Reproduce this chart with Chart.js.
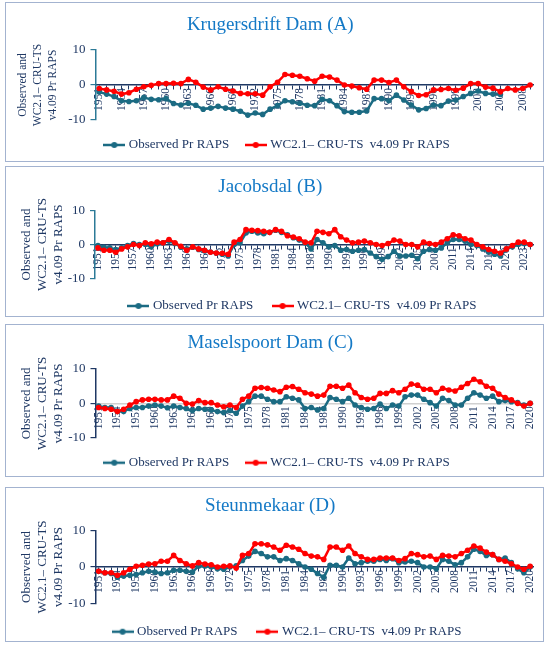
<!DOCTYPE html>
<html>
<head>
<meta charset="utf-8">
<script src="https://cdn.jsdelivr.net/npm/chart.js@4.4.1/dist/chart.umd.min.js"></script>
<style>
  body { margin: 0; background: #fff; }
  .panel { position: absolute; left: 5px; width: 539px; box-sizing: border-box; border: 1.5px solid #a3b3d0; }
  .wrap { position: absolute; left: 6px; width: 537px; }
</style>
</head>
<body>
<div class="panel" style="top:2px;height:160px"></div>
<div class="panel" style="top:166px;height:151px"></div>
<div class="panel" style="top:324px;height:153px"></div>
<div class="panel" style="top:487px;height:155px"></div>
<div class="wrap" id="wA"><canvas id="cA"></canvas></div>
<div class="wrap" id="wB"><canvas id="cB"></canvas></div>
<div class="wrap" id="wC"><canvas id="cC"></canvas></div>
<div class="wrap" id="wD"><canvas id="cD"></canvas></div>
<script>
// years on the category axis
var years = [1951,1952,1953,1954,1955,1956,1957,1958,1959,1960,
  1961,1962,1963,1964,1965,1966,1967,1968,1969,1970,
  1971,1972,1973,1974,1975,1976,1977,1978,1979,1980,
  1981,1982,1983,1984,1985,1986,1987,1988,1989,1990,
  1991,1992,1993,1994,1995,1996,1997,1998,1999,2000,
  2001,2002,2003,2004,2005,2006,2007,2008,2009,2010,
  2011,2012,2013,2014,2015,2016,2017,2018,2019,2020,
  2021,2022,2023,2024];
var yearsA = years.slice(0, 59);
var yearsB = years.slice(0, 74);
var yearsC = years.slice(0, 70);
var yearsD = years.slice(0, 70);

// Krugersdrift Dam (A)
var obsA = [-2.0,-2.6,-3.3,-4.5,-4.7,-4.5,-3.6,-4.1,-4.2,-3.9,
  -5.3,-5.7,-5.2,-5.8,-6.9,-6.6,-6.1,-6.6,-6.9,-7.5,
  -8.6,-8.0,-8.4,-6.9,-5.9,-4.5,-4.8,-5.2,-5.8,-5.9,
  -4.1,-4.5,-5.9,-7.6,-7.8,-7.8,-7.4,-3.9,-3.9,-4.5,
  -2.9,-4.3,-5.7,-7.1,-6.7,-5.7,-5.9,-4.6,-4.3,-3.3,
  -2.4,-1.7,-2.4,-2.6,-2.7,null,null,null,null];
var wcA = [-1.0,-1.4,-1.8,-2.6,-2.2,-1.2,-0.5,-0.1,0.4,0.4,
  0.5,0.4,1.6,0.8,-0.6,-1.4,-0.5,-1.2,-1.7,-2.4,
  -2.5,-2.5,-2.9,-0.5,0.8,3.0,2.8,2.5,1.8,1.1,
  2.5,2.3,1.4,0.0,-0.3,-0.8,-1.2,1.4,1.4,0.7,
  1.4,-0.5,-1.9,-3.0,-2.8,-1.4,-1.3,-1.0,-1.5,-0.9,
  0.4,0.4,-0.6,-0.9,-1.9,-1.0,-1.4,-1.0,0.0];

// Jacobsdal (B)
var obsB = [-0.3,-0.8,-1.0,-1.5,-1.0,-0.3,0.3,0.0,0.0,-0.7,
  0.2,0.5,1.0,0.3,-0.8,-1.3,-0.8,-1.5,-1.9,-2.2,
  -2.6,-2.9,-3.4,0.0,0.5,3.4,3.9,3.4,3.2,3.6,
  4.2,3.6,2.9,2.0,1.3,0.5,-1.3,1.5,0.5,-0.7,
  -0.3,-1.7,-1.5,-2.0,-1.7,-1.5,-2.5,-3.6,-4.4,-3.6,
  -2.0,-3.4,-3.4,-3.2,-4.2,-2.0,-1.5,-1.7,-1.0,0.5,
  1.5,1.5,1.0,0.0,-0.3,-1.3,-2.3,-2.9,-3.4,-1.3,
  -0.7,0.0,0.3,0.0];
var wcB = [-1.0,-1.7,-1.7,-2.3,-1.3,-0.7,0.0,-0.3,0.5,0.2,
  0.7,0.5,1.5,0.5,-0.5,-1.7,-0.7,-1.3,-1.7,-2.3,
  -2.5,-2.6,-2.9,0.7,1.5,4.4,4.2,4.1,3.9,3.6,
  4.4,3.9,2.6,2.2,1.7,0.7,0.5,3.9,3.6,3.2,
  4.4,2.3,1.3,0.5,0.7,1.0,0.5,0.0,-0.3,0.3,
  1.3,1.0,0.0,0.0,-0.7,0.7,0.3,0.0,0.7,1.7,
  2.9,2.6,1.7,1.3,0.0,-0.7,-1.5,-2.0,-2.5,-1.3,
  -0.3,0.7,0.7,0.0];

// Maselspoort Dam (C)
var obsC = [-0.8,-1.2,-1.2,-2.4,-2.4,-1.5,-1.2,-1.2,-0.8,-0.5,
  -0.8,-1.3,-0.8,-1.2,-1.5,-2.1,-1.5,-1.7,-1.9,-2.4,
  -2.7,-2.1,-2.9,-0.8,0.5,2.1,2.1,1.2,0.5,0.5,
  1.9,1.5,1.0,-1.5,-1.2,-1.9,-1.5,1.7,1.2,0.5,
  1.5,-0.5,-1.2,-1.7,-1.5,-0.2,-1.5,-0.5,-0.8,1.9,
  2.4,2.4,1.2,0.2,-0.8,1.5,0.8,-0.5,-0.5,1.5,
  3.1,2.4,1.5,2.1,0.5,0.8,0.5,0.2,-0.5,0.0];
var wcC = [-1.2,-1.5,-1.7,-2.4,-1.7,-0.5,0.5,1.0,1.2,1.2,
  1.0,1.0,2.1,1.5,0.0,-0.2,0.8,0.2,0.2,-0.5,
  -1.0,-0.5,-1.2,1.2,2.1,4.4,4.6,4.4,3.9,3.4,
  4.7,4.9,4.1,3.1,2.7,2.1,2.4,5.0,5.0,4.4,
  5.3,3.1,1.7,1.2,1.5,2.9,2.9,3.7,3.1,4.1,
  5.6,5.3,4.1,4.1,3.1,4.4,3.9,3.6,4.7,5.8,
  7.0,6.3,5.0,4.4,2.7,1.7,1.0,0.0,-0.8,0.0];

// Steunmekaar (D)
var obsD = [-1.2,-1.6,-1.8,-2.8,-2.5,-2.3,-2.1,-1.6,-1.2,-1.4,
  -1.8,-1.6,-0.9,-0.9,-1.2,-1.4,0.3,0.3,0.0,-0.5,
  -0.6,0.0,0.3,1.8,3.0,4.3,3.7,2.8,2.8,1.8,
  2.3,1.8,0.9,0.0,-0.6,-1.8,-2.8,0.5,0.5,0.0,
  2.5,0.9,1.2,1.6,1.6,2.1,1.8,2.3,1.2,1.4,
  1.6,1.2,0.0,0.0,-0.5,2.1,1.6,0.6,1.2,2.8,
  4.9,4.3,3.2,3.4,2.1,2.5,1.2,-0.5,-1.6,0.0];
var wcD = [-1.2,-1.6,-1.6,-2.3,-1.6,-0.6,0.2,0.5,0.8,0.9,
  1.6,1.6,3.2,1.8,0.9,0.3,1.2,0.8,0.6,0.0,
  0.2,0.3,-0.3,3.2,3.7,6.4,6.4,6.1,5.5,4.6,
  6.0,5.5,4.9,3.7,3.0,2.8,2.1,5.5,5.5,4.6,
  5.8,3.7,2.8,2.1,2.1,2.5,2.5,2.5,1.8,2.3,
  3.7,3.4,2.8,3.0,2.1,3.2,3.0,2.8,3.7,4.6,
  5.8,5.2,4.1,3.4,2.1,1.6,0.9,0.0,-0.6,0.2];

var obsLabel = 'Observed Pr RAPS';
var wcLabel = 'WC2.1\u2013 CRU-TS  v4.09 Pr RAPS';
var yTitle = ['Observed and', 'WC2.1\u2013 CRU-TS', 'v4.09 Pr RAPS'];

var navy = '#1f3864';
var teal = '#1b6b83';
var red = '#ff0000';
var axisTeal = '#2c7a97';
var titleBlue = '#1479c6';
var serif = "'Liberation Serif', 'Times New Roman', serif";

// legend symbol: short line with a dot, like the spreadsheet legend
function marker(color) {
  var c = document.createElement('canvas');
  c.width = 22; c.height = 10;
  var g = c.getContext('2d');
  g.strokeStyle = color; g.lineWidth = 2.5;
  g.beginPath(); g.moveTo(0, 5); g.lineTo(22, 5); g.stroke();
  g.fillStyle = color;
  g.beginPath(); g.arc(11, 5, 3, 0, Math.PI * 2); g.fill();
  return c;
}

// move the legend row so it is centred where the original one is
var legendShift = {
  id: 'legendShift',
  afterLayout: function (chart, args, opts) {
    var lg = chart.legend;
    if (!lg || !lg.lineWidths || opts.center == null) return;
    var p = lg.options.labels.padding;
    var lw = lg.lineWidths[0];
    var start = (lg.left + p + lg.right - lw) / 2;
    var mid = start + (lw - p - 3) / 2;
    var dx = opts.center - mid;
    lg.left += dx;
    lg.right += dx;
  }
};

function drawPanel(id, labels, obs, wc, title, box) {
  var lineH = 19 * 1.2;
  var padTop = box.title - box.top - lineH / 2;
  var padBottom = box.plotTop - box.top - padTop - lineH;
  var legPad = box.legend - box.plotBottom - 6.5;
  var natural = box.legend + 16.5 - box.top;
  var h = Math.ceil(natural);
  var wrap = document.getElementById('w' + id);
  wrap.style.top = box.top + 'px';
  wrap.style.height = h + 'px';

  new Chart(document.getElementById('c' + id), {
    type: 'line',
    data: {
      labels: labels,
      datasets: [
        {
          label: obsLabel, data: obs, order: 1,
          borderColor: teal, backgroundColor: teal,
          pointBackgroundColor: teal, pointBorderColor: teal,
          borderWidth: 2.5, pointRadius: 2.8, pointBorderWidth: 0, tension: 0
        },
        {
          label: wcLabel, data: wc, order: 0,
          borderColor: red, backgroundColor: red,
          pointBackgroundColor: red, pointBorderColor: red,
          borderWidth: 2.5, pointRadius: 2.8, pointBorderWidth: 0, tension: 0
        }
      ]
    },
    options: {
      responsive: true,
      maintainAspectRatio: false,
      animation: false,
      layout: { padding: { left: 0, right: 8.5, top: 0, bottom: h - natural } },
      plugins: {
        title: {
          display: true, text: title, color: titleBlue,
          font: { family: serif, size: 19, weight: 'normal' },
          padding: { top: padTop, bottom: padBottom }
        },
        legend: {
          position: 'bottom',
          labels: {
            usePointStyle: true, pointStyleWidth: 16, padding: legPad,
            color: navy, font: { family: serif, size: 13 },
            generateLabels: function (chart) {
              return chart.data.datasets.map(function (ds, i) {
                return {
                  text: ds.label, datasetIndex: i, hidden: false,
                  pointStyle: marker(ds.borderColor), fontColor: navy,
                  fillStyle: ds.borderColor, strokeStyle: ds.borderColor, lineWidth: 0
                };
              });
            }
          }
        },
        legendShift: { center: box.legendCenter - 6 },
        tooltip: { enabled: false }
      },
      scales: {
        x: {
          type: 'category', axis: 'x',
          position: { y: 0 },
          offset: true,
          grid: { drawOnChartArea: false, drawTicks: true, tickLength: 4, color: box.xTick, lineWidth: 1 },
          border: { display: true, color: box.xLine, width: 1.5 },
          ticks: {
            autoSkip: false, minRotation: 90, maxRotation: 90, padding: -1,
            color: navy, font: { family: serif, size: 11.5 },
            callback: function (value, index) {
              return index % 3 === 0 ? this.getLabelForValue(value) : '';
            }
          }
        },
        y: {
          min: -10, max: 10,
          ticks: { stepSize: 10, padding: 5, color: navy, font: { family: serif, size: 13 } },
          grid: { drawOnChartArea: false, drawTicks: true, tickLength: 5, color: box.yLine, lineWidth: 1.2 },
          border: { display: true, color: box.yLine, width: 1.5 },
          title: {
            display: true, text: yTitle, color: navy,
            font: { family: serif, size: box.ytSize, lineHeight: box.ytLine / box.ytSize },
            padding: { top: box.ytFirst - 6 - box.ytLine / 2, bottom: 0 }
          },
          afterFit: function (scale) { scale.width = box.axisX - 6; }
        }
      }
    },
    plugins: [legendShift]
  });
}

drawPanel('A', yearsA, obsA, wcA, 'Krugersdrift Dam (A)', {
  top: 3, title: 25, plotTop: 50, plotBottom: 120, legend: 145, legendCenter: 276.5,
  axisX: 95.5, ytSize: 11.5, ytLine: 15, ytFirst: 23.3,
  xLine: navy, xTick: navy, yLine: axisTeal
});
drawPanel('B', yearsB, obsB, wcB, 'Jacobsdal (B)', {
  top: 167, title: 186.7, plotTop: 210.7, plotBottom: 278.3, legend: 306, legendCenter: 302,
  axisX: 95, ytSize: 13, ytLine: 16, ytFirst: 26.7,
  xLine: navy, xTick: navy, yLine: axisTeal
});
drawPanel('C', yearsC, obsC, wcC, 'Maselspoort Dam (C)', {
  top: 325, title: 343.5, plotTop: 369, plotBottom: 437.7, legend: 462.7, legendCenter: 276.5,
  axisX: 95.5, ytSize: 13, ytLine: 16, ytFirst: 26.7,
  xLine: '#d0d0d0', xTick: 'rgba(0,0,0,0)', yLine: navy
});
drawPanel('D', yearsD, obsD, wcD, 'Steunmekaar (D)', {
  top: 488, title: 505.7, plotTop: 530.7, plotBottom: 603.3, legend: 631.7, legendCenter: 286.5,
  axisX: 95.5, ytSize: 13, ytLine: 16, ytFirst: 26.7,
  xLine: navy, xTick: navy, yLine: navy
});
</script>
</body>
</html>
